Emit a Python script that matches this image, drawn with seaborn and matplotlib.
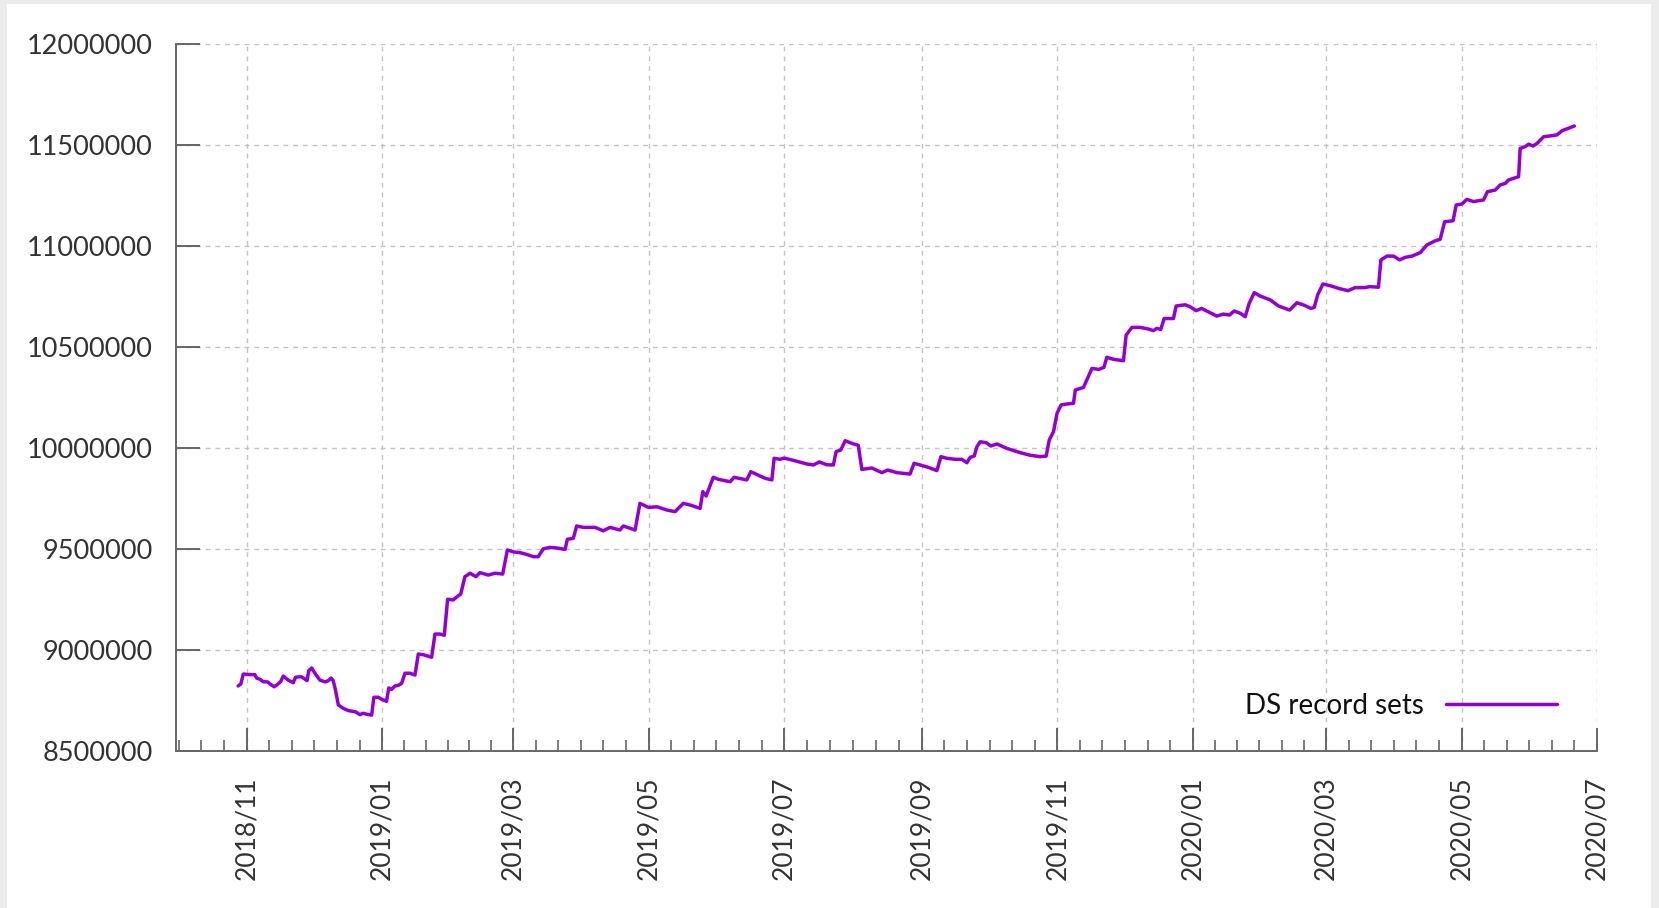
import matplotlib
matplotlib.use("Agg")
import matplotlib.pyplot as plt
import matplotlib.dates as mdates
import matplotlib.ticker as mticker
from matplotlib.patches import Rectangle
import numpy as np
import pandas as pd
import seaborn as sns

# ---- data ----
start_date = "2018-11-01"
# days after start_date of each traced vertex
day_offsets = [
    -3.8, -2.6, -1.5, 1.5, 3.7, 4.5, 6.0, 7.5, 9.5, 10.5, 12.4, 14.2, 15.4, 16.5,
    18.7, 21.0, 22.0, 24.5, 26.0, 27.2, 28.0, 29.3, 31.0, 33.0, 35.3, 36.8, 38.0,
    39.0, 40.0, 41.3, 43.5, 45.8, 48.0, 49.2, 51.0, 52.5, 54.0, 56.3, 57.3, 59.3,
    60.8, 63.0, 64.0, 65.3, 66.8, 68.3, 69.8, 71.3, 73.5, 75.8, 77.3, 79.5, 83.3,
    84.8, 87.0, 89.0, 90.5, 93.0, 94.8, 96.4, 98.3, 100.6, 103.3, 105.0, 108.8,
    111.8, 115.3, 117.4, 120.4, 123.1, 126.4, 129.1, 131.3, 133.6, 136.6, 139.6,
    143.4, 144.4, 147.1, 148.6, 151.6, 156.9, 160.6, 163.6, 168.1, 169.6, 174.9,
    177.1, 180.9, 184.7, 189.2, 192.9, 195.1, 196.6, 199.6, 204.2, 205.4, 206.9,
    210.1, 212.4, 217.7, 219.5, 225.2, 227.0, 231.2, 233.5, 236.5, 237.5, 240.2,
    242.0, 245.4, 252.2, 255.2, 257.9, 261.2, 264.2, 265.4, 267.5, 269.5, 272.5,
    275.4, 277.0, 281.5, 286.0, 288.7, 292.7, 298.7, 300.5, 303.2, 307.0, 310.8,
    312.6, 315.3, 319.0, 322.0, 324.3, 325.8, 327.6, 328.8, 330.3, 333.0, 335.1,
    337.8, 342.3, 348.3, 352.8, 357.3, 360.0, 361.4, 363.3, 364.9, 366.7, 369.4,
    372.3, 373.1, 376.8, 380.6, 383.6, 386.0, 387.3, 390.3, 394.8, 396.0, 398.6,
    402.3, 405.3, 408.3, 409.8, 411.6, 413.1, 417.3, 418.5, 422.6, 424.8, 427.5,
    430.0, 433.8, 436.8, 439.8, 442.5, 444.6, 447.4, 449.6, 451.4, 453.7, 456.4,
    460.9, 464.6, 469.6, 472.9, 475.9, 479.2, 480.7, 482.2, 484.6, 488.3, 492.0,
    495.9, 499.1, 503.6, 505.6, 509.6, 510.7, 513.4, 516.4, 519.1, 521.7, 524.7,
    528.4, 531.4, 535.2, 537.4, 539.4, 543.2, 544.6, 547.2, 549.4, 552.4, 556.9,
    558.7, 562.2, 564.4, 566.7, 568.2, 572.7, 573.4, 575.7, 577.2, 579.2, 581.0,
    584.0, 587.0, 590.0, 592.3, 595.2, 597.8,
]
# DS record sets, in millions
ds_millions = [
    8.822, 8.832, 8.881, 8.878, 8.878, 8.861, 8.855, 8.843, 8.842, 8.832, 8.818, 8.832, 8.845, 8.871,
    8.851, 8.838, 8.865, 8.868, 8.858, 8.848, 8.898, 8.911, 8.881, 8.851, 8.842, 8.848, 8.861,
    8.848, 8.802, 8.728, 8.711, 8.700, 8.696, 8.693, 8.680, 8.687, 8.682, 8.678, 8.766, 8.766,
    8.756, 8.746, 8.812, 8.805, 8.822, 8.825, 8.835, 8.885, 8.885, 8.876, 8.980, 8.977, 8.964,
    9.079, 9.079, 9.073, 9.251, 9.248, 9.264, 9.277, 9.363, 9.380, 9.363, 9.383, 9.371,
    9.380, 9.376, 9.495, 9.485, 9.482, 9.472, 9.462, 9.462, 9.501, 9.508, 9.505,
    9.498, 9.548, 9.553, 9.614, 9.607, 9.607, 9.590, 9.607, 9.594, 9.614, 9.594,
    9.726, 9.706, 9.709, 9.693, 9.685, 9.709, 9.726, 9.718, 9.701, 9.784, 9.762,
    9.855, 9.845, 9.833, 9.855, 9.842, 9.883, 9.861, 9.850, 9.842, 9.949, 9.944,
    9.950, 9.941, 9.921, 9.916, 9.931, 9.917, 9.916, 9.982, 9.990, 10.036, 10.023,
    10.013, 9.894, 9.901, 9.878, 9.891, 9.878, 9.871, 9.924, 9.916, 9.904, 9.888,
    9.957, 9.949, 9.944, 9.944, 9.927, 9.954, 9.960, 10.006, 10.031, 10.026, 10.010,
    10.020, 9.998, 9.977, 9.964, 9.957, 9.960, 10.040, 10.081, 10.172, 10.213, 10.218,
    10.221, 10.287, 10.300, 10.394, 10.389, 10.399, 10.449, 10.439, 10.432, 10.559, 10.597,
    10.597, 10.591, 10.581, 10.592, 10.587, 10.641, 10.641, 10.703, 10.709, 10.699, 10.680,
    10.691, 10.670, 10.653, 10.663, 10.658, 10.678, 10.667, 10.650, 10.716, 10.769, 10.752,
    10.733, 10.703, 10.683, 10.719, 10.708, 10.691, 10.696, 10.757, 10.812, 10.802, 10.789,
    10.779, 10.794, 10.794, 10.799, 10.796, 10.931, 10.950, 10.950, 10.931, 10.944, 10.950,
    10.967, 11.005, 11.026, 11.033, 11.120, 11.125, 11.203, 11.208, 11.231, 11.220, 11.228,
    11.269, 11.277, 11.302, 11.310, 11.327, 11.343, 11.483, 11.492, 11.504, 11.495, 11.508,
    11.541, 11.545, 11.550, 11.571, 11.583, 11.594,
]
series_label = "DS record sets"
major_tick_dates = ["2018-11-01", "2019-01-01", "2019-03-01", "2019-05-01", "2019-07-01",
                    "2019-09-01", "2019-11-01", "2020-01-01", "2020-03-01", "2020-05-01",
                    "2020-07-01"]
y_ticks = [8500000, 9000000, 9500000, 10000000, 10500000, 11000000, 11500000, 12000000]
x_range = ["2018-09-30 05:00", "2020-07-01"]

df = pd.DataFrame({
    "date": pd.Timestamp(start_date) + pd.to_timedelta(day_offsets, unit="D"),
    "value": np.array(ds_millions) * 1e6,
})

# ---- style ----
sns.set_theme(style="white")
plt.rcParams["font.family"] = ["Lato", "DejaVu Sans"]

W, H = 1659, 908
fig = plt.figure(figsize=(W / 100, H / 100), dpi=100, facecolor="#ececec")
card = Rectangle((7 / W, 0), (1651 - 7) / W, (H - 4) / H,
                 transform=fig.transFigure, facecolor="white",
                 edgecolor="none", zorder=-10)
fig.patches.append(card)
ax = fig.add_axes([176 / W, 1 - 751 / H, (1597 - 176) / W, (751 - 44) / H])
ax.set_zorder(5)
ax.set_facecolor("none")

sns.lineplot(data=df, x="date", y="value", ax=ax, color="#9400D3",
             linewidth=2.5, label=series_label, zorder=3)

ax.set_xlim(pd.Timestamp(x_range[0]), pd.Timestamp(x_range[1]))
ax.set_ylim(y_ticks[0], y_ticks[-1])

majors = [pd.Timestamp(d) for d in major_tick_dates]
ax.xaxis.set_major_locator(mticker.FixedLocator(mdates.date2num(majors)))
ax.xaxis.set_major_formatter(mdates.DateFormatter("%Y/%m"))
# minor ticks: 5 evenly spaced between majors
mnum = list(mdates.date2num(majors))
step0 = mnum[1] - mnum[0]
edges = [mnum[0] - step0] + mnum
minors = []
for a, b in zip(edges[:-1], edges[1:]):
    for k in range(1, 6):
        minors.append(a + (b - a) * k / 6)
lo = mdates.date2num(pd.Timestamp(x_range[0]))
minors = [m for m in minors if m > lo + 1]
ax.xaxis.set_minor_locator(mticker.FixedLocator(minors))

ax.set_yticks(y_ticks)
ax.yaxis.set_major_formatter(mticker.FuncFormatter(lambda v, _: f"{int(round(v))}"))

for s in ["top", "right"]:
    ax.spines[s].set_visible(False)
for s in ["left", "bottom"]:
    ax.spines[s].set_color("#666666")
    ax.spines[s].set_linewidth(1.4)

ax.tick_params(axis="x", which="major", direction="in", length=16.5, width=1.4,
               color="#666666", labelsize=19, labelcolor="#333333", pad=18,
               labelrotation=90, bottom=True)
ax.tick_params(axis="x", which="minor", direction="in", length=8, width=1.2,
               color="#666666", bottom=True)
ax.tick_params(axis="y", which="major", direction="in", length=17, width=1.4,
               color="#666666", labelsize=19.5, labelcolor="#333333", pad=17, left=True)
for lab in ax.get_xticklabels():
    lab.set_verticalalignment("top")

ax.grid(True, which="major", color="#c4c4c4", linewidth=1.0,
        linestyle=(0, (3.5, 3.5)), zorder=0)
ax.set_axisbelow(True)
ax.set_xlabel("")
ax.set_ylabel("")

ax.legend(loc="center right", bbox_to_anchor=((1557 - 176) / (1597 - 176), (751 - 706) / (751 - 44)),
          frameon=False, markerfirst=False, handlelength=4.0, handletextpad=0.8,
          borderpad=0, borderaxespad=0, fontsize=20, labelcolor="#111111")

fig.savefig("out.png", dpi=100, facecolor=fig.get_facecolor())
